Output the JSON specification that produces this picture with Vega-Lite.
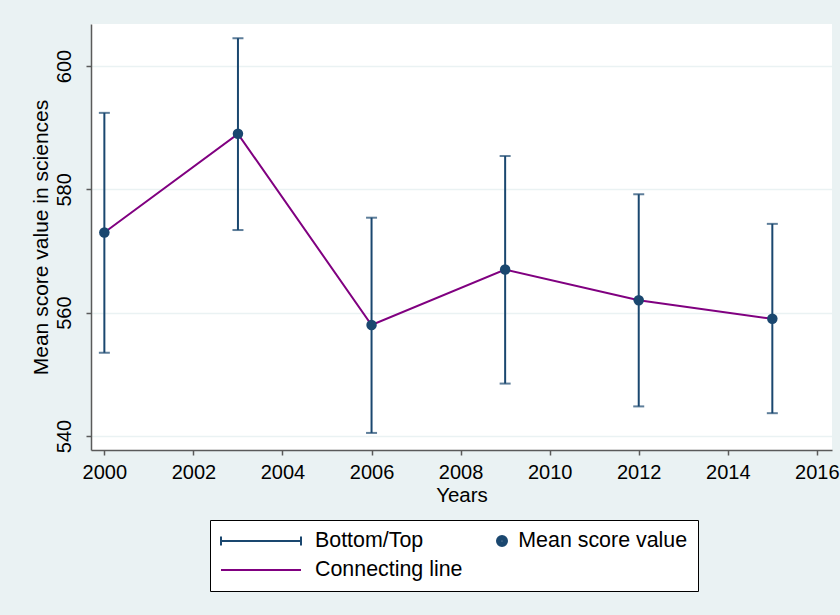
{
  "$schema": "https://vega.github.io/schema/vega-lite/v6.json",
  "width": 741,
  "height": 426,
  "autosize": {"type": "none"},
  "padding": {"left": 91, "top": 24, "right": 8, "bottom": 165},
  "background": "#EAF2F3",
  "config": {
    "view": {"fill": "white", "stroke": null},
    "font": "Liberation Sans",
    "axis": {
      "domainColor": "#5a5a5a",
      "domainWidth": 1.5,
      "tickColor": "#5a5a5a",
      "tickWidth": 1.5,
      "tickSize": 5,
      "labelFont": "Liberation Sans",
      "labelFontSize": 20,
      "labelColor": "#000000",
      "titleFont": "Liberation Sans",
      "titleFontSize": 20.5,
      "titleFontWeight": "normal",
      "titleColor": "#000000"
    },
    "legend": {
      "title": null,
      "orient": "none",
      "legendX": 119,
      "legendY": 496,
      "direction": "vertical",
      "symbolSize": 400,
      "symbolStrokeWidth": 2,
      "symbolOpacity": 1,
      "labelOffset": 73,
      "labelFont": "Liberation Sans",
      "labelFontSize": 21.4,
      "labelColor": "#000000",
      "labelLimit": 600,
      "padding": 10,
      "rowPadding": 7,
      "strokeColor": "#000000",
      "fillColor": "#ffffff"
    }
  },
  "data": {
    "values": [
      {"year": 2000, "mean": 573, "lo": 553.5, "hi": 592.4},
      {"year": 2003, "mean": 589, "lo": 573.4, "hi": 604.5},
      {"year": 2006, "mean": 558, "lo": 540.5, "hi": 575.4},
      {"year": 2009, "mean": 567, "lo": 548.5, "hi": 585.4},
      {"year": 2012, "mean": 562, "lo": 544.8, "hi": 579.2},
      {"year": 2015, "mean": 559, "lo": 543.7, "hi": 574.4}
    ]
  },
  "layer": [
    {
      "mark": {"type": "rule", "color": "#1a476f", "strokeWidth": 2},
      "encoding": {
        "x": {
          "field": "year",
          "type": "quantitative",
          "scale": {"domain": [1999.7, 2016.34], "nice": false, "zero": false},
          "axis": {
            "title": "Years",
            "values": [2000, 2002, 2004, 2006, 2008, 2010, 2012, 2014, 2016],
            "format": "d",
            "grid": false,
            "labelFlush": false,
            "labelPadding": 7,
            "titlePadding": 3
          }
        },
        "y": {
          "field": "lo",
          "type": "quantitative",
          "scale": {"domain": [537.73, 606.81], "nice": false, "zero": false},
          "axis": {
            "title": "Mean score value in sciences",
            "titleFontSize": 21,
            "values": [540, 560, 580, 600],
            "grid": true,
            "gridColor": "#EAF2F3",
            "gridWidth": 1.5,
            "labelAngle": -90,
            "labelAlign": "center",
            "labelBaseline": "bottom",
            "labelPadding": 12,
            "titlePadding": 3
          }
        },
        "y2": {"field": "hi"}
      }
    },
    {
      "mark": {"type": "tick", "orient": "horizontal", "color": "#1a476f", "size": 11, "thickness": 2},
      "encoding": {
        "x": {"field": "year", "type": "quantitative"},
        "y": {"field": "lo", "type": "quantitative"}
      }
    },
    {
      "mark": {"type": "tick", "orient": "horizontal", "color": "#1a476f", "size": 11, "thickness": 2},
      "encoding": {
        "x": {"field": "year", "type": "quantitative"},
        "y": {"field": "hi", "type": "quantitative"}
      }
    },
    {
      "mark": {"type": "line", "color": "#800080", "strokeWidth": 2},
      "encoding": {
        "x": {"field": "year", "type": "quantitative"},
        "y": {"field": "mean", "type": "quantitative"}
      }
    },
    {
      "mark": {"type": "point", "filled": true, "color": "#1a476f", "size": 110, "opacity": 1},
      "encoding": {
        "x": {"field": "year", "type": "quantitative"},
        "y": {"field": "mean", "type": "quantitative"}
      }
    },
    {
      "description": "Key layer: drawn fully transparent, it only carries the legend. The first key row holds both the Bottom/Top bar and the mean-score dot, as in a two-column key.",
      "mark": {"type": "point", "filled": false, "opacity": 0, "strokeWidth": 2},
      "encoding": {
        "x": {"field": "year", "type": "quantitative"},
        "y": {"field": "mean", "type": "quantitative"},
        "shape": {
          "datum": "Bottom/Top",
          "type": "nominal",
          "scale": {
            "domain": ["Bottom/Top", "Connecting line"],
            "range": [
              "M-1,0H7M-1,-0.45V0.45M7,-0.45V0.45M26.6,0A0.5,0.5 0 1,0 27.6,0A0.5,0.5 0 1,0 26.6,0M26.78,0A0.32,0.32 0 1,0 27.42,0A0.32,0.32 0 1,0 26.78,0M26.96,0A0.14,0.14 0 1,0 27.24,0A0.14,0.14 0 1,0 26.96,0",
              "M-1,0H7"
            ]
          },
          "legend": {
            "labelExpr": "datum.value === 'Bottom/Top' ? 'Bottom/Top\u00a0\u00a0\u00a0\u00a0\u00a0\u00a0\u00a0\u00a0\u00a0\u00a0\u00a0\u00a0\u00a0\u00a0\u00a0\u00a0Mean score value' : datum.label"
          }
        },
        "color": {
          "datum": "Bottom/Top",
          "type": "nominal",
          "scale": {
            "domain": ["Bottom/Top", "Connecting line"],
            "range": ["#1a476f", "#800080"]
          },
          "legend": {
            "labelExpr": "datum.value === 'Bottom/Top' ? 'Bottom/Top\u00a0\u00a0\u00a0\u00a0\u00a0\u00a0\u00a0\u00a0\u00a0\u00a0\u00a0\u00a0\u00a0\u00a0\u00a0\u00a0Mean score value' : datum.label"
          }
        }
      }
    }
  ]
}
